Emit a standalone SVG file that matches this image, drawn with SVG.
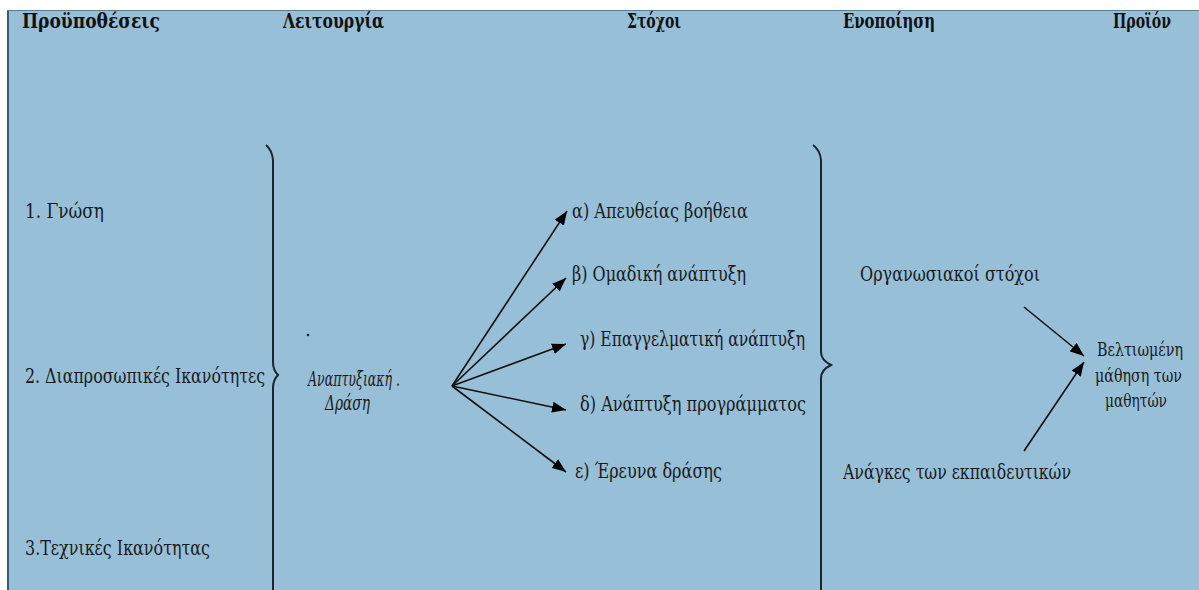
<svg xmlns="http://www.w3.org/2000/svg" width="1199" height="590" viewBox="0 0 1199 590">
<defs>
<style>
.h{font-family:"DejaVu Serif Condensed","DejaVu Serif","Liberation Serif",serif;font-weight:bold;font-size:20px;fill:#111}
.t{font-family:"DejaVu Serif Condensed","DejaVu Serif","Liberation Serif",serif;font-size:21px;fill:#1a1a1a}
.p{font-size:18.5px}
.i{font-style:italic}
.c{stroke:#111;stroke-width:1.6;fill:none}
.b{stroke:#1a2530;stroke-width:2;fill:none}
</style>
<marker id="ah" viewBox="0 0 14 11" refX="14" refY="5.5" markerWidth="14" markerHeight="11" markerUnits="userSpaceOnUse" orient="auto">
<path d="M0,0 L14,5.5 L0,11 z" fill="#000"/>
</marker>
</defs>
<rect x="0" y="0" width="1199" height="590" fill="#ffffff"/>
<rect x="7" y="10" width="1192" height="580" fill="#97bfd8"/>
<line x1="8" y1="10" x2="8" y2="590" stroke="#3c5a6e" stroke-width="2"/>
<line x1="7" y1="10.5" x2="1199" y2="10.5" stroke="#5a7d93" stroke-width="1"/>

<g id="headers">
<text class="h" x="22" y="28" textLength="138" lengthAdjust="spacingAndGlyphs">Προϋποθέσεις</text>
<text class="h" x="283" y="28" textLength="101" lengthAdjust="spacingAndGlyphs">Λειτουργία</text>
<text class="h" x="627" y="28" textLength="54" lengthAdjust="spacingAndGlyphs">Στόχοι</text>
<text class="h" x="843" y="28" textLength="92" lengthAdjust="spacingAndGlyphs">Ενοποίηση</text>
<text class="h" x="1113" y="28" textLength="58" lengthAdjust="spacingAndGlyphs">Προϊόν</text>
</g>

<g id="prerequisites">
<text class="t" x="25" y="218" textLength="79" lengthAdjust="spacingAndGlyphs">1. Γνώση</text>
<text class="t" x="25" y="383" textLength="240" lengthAdjust="spacingAndGlyphs">2. Διαπροσωπικές Ικανότητες</text>
<text class="t" x="25" y="555" textLength="185" lengthAdjust="spacingAndGlyphs">3.Τεχνικές Ικανότητας</text>
</g>

<g id="brace1">
<path class="b" d="M266,145 Q272,150 273,160 L273,362 Q273,370 278,375 Q273,380 273,388 L273,590"/>
</g>

<g id="function">
<circle cx="308" cy="335" r="1.3" fill="#222"/>
<text class="t i" x="308" y="386" textLength="92" lengthAdjust="spacingAndGlyphs">Αναπτυξιακή .</text>
<text class="t i" x="325" y="410" textLength="45" lengthAdjust="spacingAndGlyphs">Δράση</text>
</g>

<g id="goals">
<text class="t" x="572" y="218" textLength="176" lengthAdjust="spacingAndGlyphs">α) Απευθείας βοήθεια</text>
<text class="t" x="572" y="281" textLength="174" lengthAdjust="spacingAndGlyphs">β) Ομαδική ανάπτυξη</text>
<text class="t" x="580" y="346" textLength="225" lengthAdjust="spacingAndGlyphs">γ) Επαγγελματική ανάπτυξη</text>
<text class="t" x="580" y="411" textLength="226" lengthAdjust="spacingAndGlyphs">δ) Ανάπτυξη προγράμματος</text>
<text class="t" x="575" y="478" textLength="147" lengthAdjust="spacingAndGlyphs">ε) Έρευνα δράσης</text>
</g>

<g id="brace2">
<path class="b" d="M813,145 Q820,150 821,160 L821,352 Q821,360 831,365 Q821,370 821,378 L821,590"/>
</g>

<g id="integration">
<text class="t" x="860" y="281" textLength="180" lengthAdjust="spacingAndGlyphs">Οργανωσιακοί στόχοι</text>
<text class="t" x="843" y="479" textLength="228" lengthAdjust="spacingAndGlyphs">Ανάγκες των εκπαιδευτικών</text>
</g>

<g id="product">
<text class="t p" x="1097" y="356" textLength="86" lengthAdjust="spacingAndGlyphs">Βελτιωμένη</text>
<text class="t p" x="1095" y="382" textLength="87" lengthAdjust="spacingAndGlyphs">μάθηση των</text>
<text class="t p" x="1105" y="407" textLength="62" lengthAdjust="spacingAndGlyphs">μαθητών</text>
</g>

<g id="connectors">
<line class="c" x1="452" y1="386" x2="567" y2="211" marker-end="url(#ah)"/>
<line class="c" x1="452" y1="386" x2="566" y2="278" marker-end="url(#ah)"/>
<line class="c" x1="452" y1="386" x2="566" y2="344" marker-end="url(#ah)"/>
<line class="c" x1="452" y1="386" x2="566" y2="410" marker-end="url(#ah)"/>
<line class="c" x1="452" y1="386" x2="566" y2="472" marker-end="url(#ah)"/>
<line class="c" x1="1024" y1="307" x2="1084" y2="356" marker-end="url(#ah)"/>
<line class="c" x1="1024" y1="451" x2="1084" y2="362" marker-end="url(#ah)"/>
</g>
</svg>
